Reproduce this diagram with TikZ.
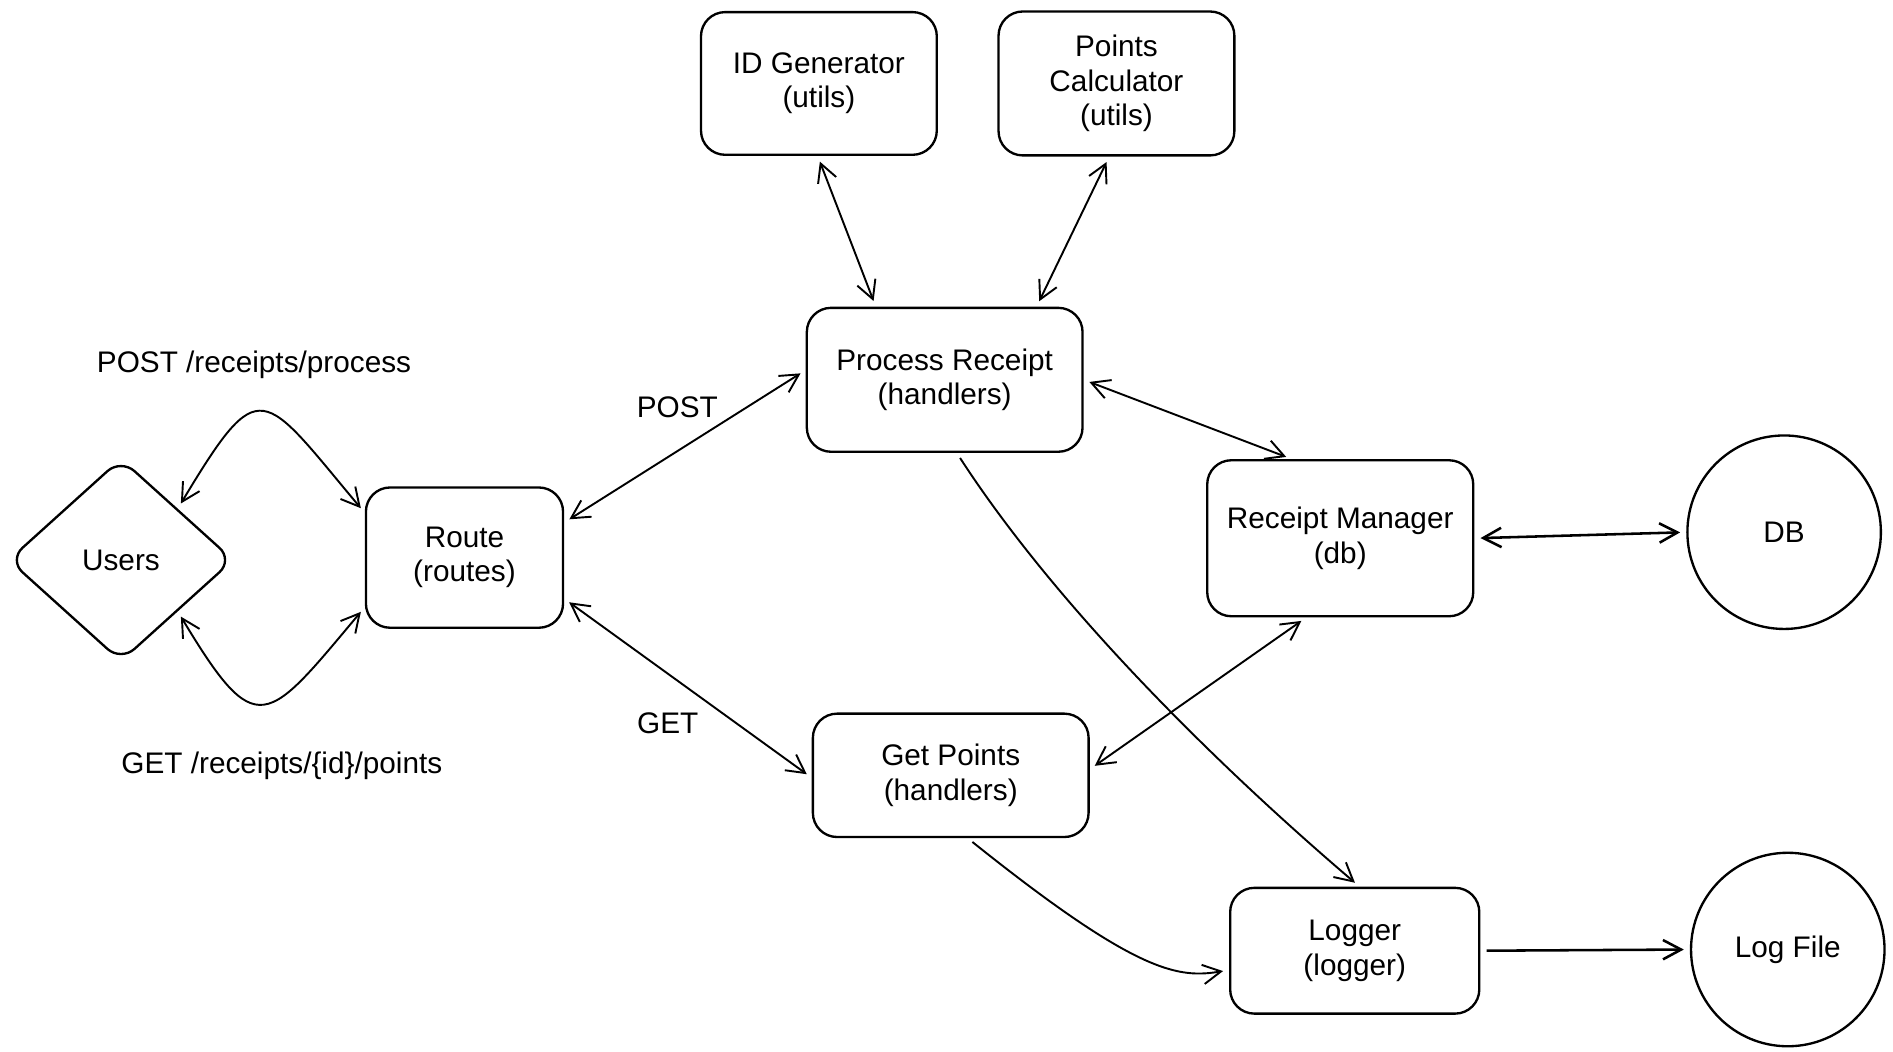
\documentclass[tikz,border=0pt]{standalone}
\usepackage{fontspec}
\setmainfont{Liberation Sans}
\usetikzlibrary{shapes.geometric,arrows.meta}

\begin{document}
\begin{tikzpicture}[x=0.02cm, y=0.02cm,
    font=\fontsize{14}{16.2}\selectfont,
    box/.style={draw, line width=1.1pt, rounded corners=0.4cm, align=center},
    ball/.style={draw, circle, line width=1.1pt, minimum size=3.2cm},
    link/.style={line width=0.9pt, shorten <=0.1cm, shorten >=0.1cm},
    >={Straight Barb[length=0.3cm, width=0.32cm]}]
  \useasboundingbox (0,0) rectangle (1565,869);

  % components
  \node[box, minimum width=3.9cm, minimum height=2.36cm] (idgen) at (677,800) {ID Generator\\(utils)};
  \node[box, minimum width=3.9cm, minimum height=2.38cm] (calc) at (923,800) {Points\\Calculator\\(utils)};
  \node[box, minimum width=4.56cm, minimum height=2.38cm] (proc) at (781,555) {Process Receipt\\(handlers)};
  \node[box, minimum width=3.26cm, minimum height=2.32cm] (route) at (384,408) {Route\\(routes)};
  \node[box, minimum width=4.4cm, minimum height=2.58cm] (mgr) at (1108,424) {Receipt Manager\\(db)};
  \node[box, minimum width=4.56cm, minimum height=2.04cm] (get) at (786,228) {Get Points\\(handlers)};
  \node[box, minimum width=4.12cm, minimum height=2.08cm] (logger) at (1120,83) {Logger\\(logger)};
  \node[draw, diamond, line width=1.1pt, rounded corners=0.3cm, minimum width=3.72cm,
    minimum height=3.36cm, inner sep=0pt] (users) at (100,406) {Users};
  \node[ball] (db) at (1475,429) {DB};
  \node[ball] (logfile) at (1478,84) {Log File};

  % labels
  \node (postall) at (210,567) {POST /receipts/process};
  \node (getall) at (233,236) {GET /receipts/\{id\}/points};
  \node (postlbl) at (560,532) {POST};
  \node (getlbl) at (552,271) {GET};

  % requests
  \draw[link, <->] ([yshift=0.74cm]route.west) to[out=130, in=59, looseness=2.2] (users.north east);
  \draw[link, <->] ([yshift=-0.82cm]route.west) to[out=230, in=-59, looseness=2.1] (users.south east);
  \draw[link, <->] ([yshift=0.16cm]proc.west) -- ([yshift=0.58cm]route.east);
  \draw[link, <->] ([yshift=-0.68cm]route.east) -- ([yshift=-0.04cm]get.west);

  % handlers
  \draw[link, <->] ([xshift=-0.02cm]idgen.south) -- ([xshift=-1.14cm]proc.north);
  \draw[link, <->] ([xshift=-0.12cm]calc.south) -- ([xshift=1.52cm]proc.north);
  \draw[link, <->] (proc.east) -- ([xshift=-0.8cm]mgr.north);
  \draw[link, <->] ([yshift=0.1cm]get.east) -- ([xshift=-0.56cm]mgr.south);
  \draw[link, <->, line width=1.2pt] (mgr.east) -- (db.west);

  % logging
  \draw[link, ->] ([xshift=0.2cm]proc.south) .. controls (875,365) and (1009,234) .. ([xshift=0.08cm]logger.north);
  \draw[link, ->] ([xshift=0.28cm]get.south) .. controls (940,64) and (974,60) .. ([yshift=-0.32cm]logger.west);
  \draw[link, ->, line width=1.2pt] (logger.east) -- (logfile.west);
\end{tikzpicture}
\end{document}
